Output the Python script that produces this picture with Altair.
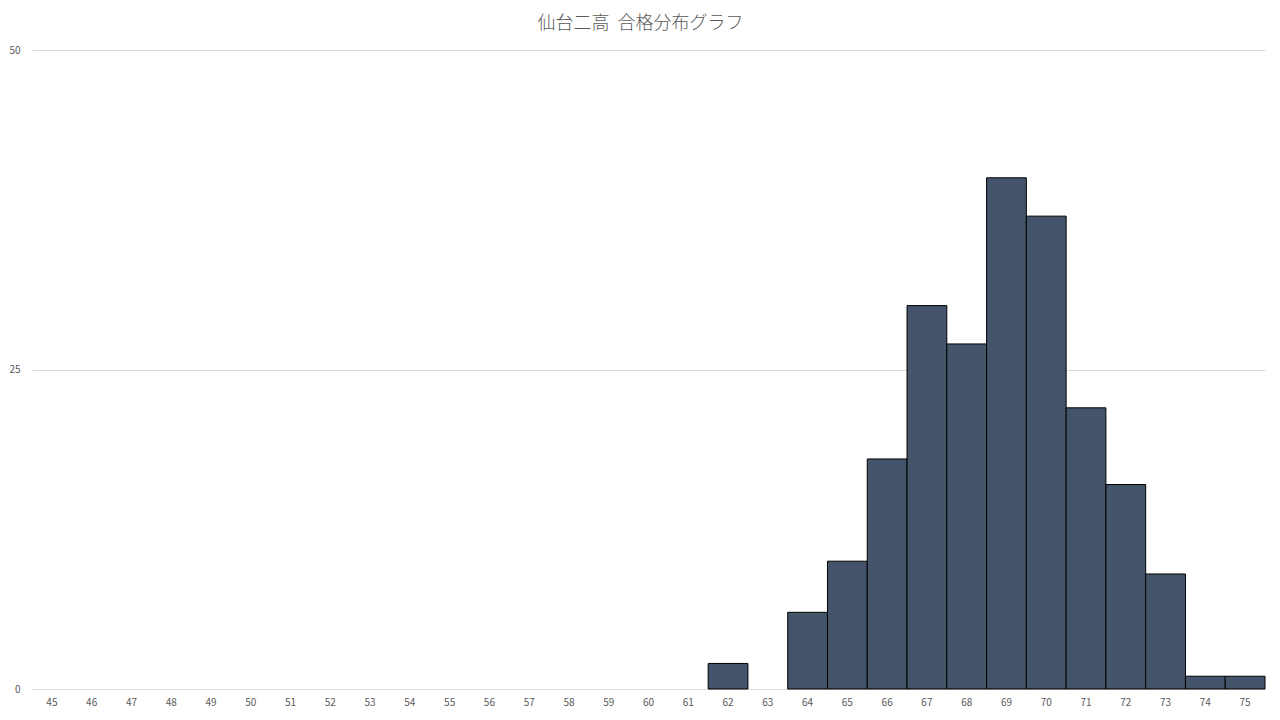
import altair as alt
import pandas as pd

scores = ["45", "46", "47", "48", "49", "50", "51", "52", "53", "54", "55",
          "56", "57", "58", "59", "60", "61", "62", "63", "64", "65", "66",
          "67", "68", "69", "70", "71", "72", "73", "74", "75"]
counts = [0, 0, 0, 0, 0, 0, 0, 0, 0, 0, 0,
          0, 0, 0, 0, 0, 0, 2, 0, 6, 10, 18,
          30, 27, 40, 37, 22, 16, 9, 1, 1]
y_ticks = [0, 25, 50]
title_text = "仙台二高\u00a0\u00a0合格分布グラフ"

df = pd.DataFrame({"score": scores, "count": counts})

font = "Noto Sans CJK JP"

chart = alt.Chart(df).transform_filter(
    "datum.count > 0"
).mark_bar(
    fill="#44546A", stroke="#000000", strokeWidth=1
).encode(
    x=alt.X("score:N",
            scale=alt.Scale(domain=scores, paddingInner=0, paddingOuter=0),
            axis=alt.Axis(title=None, labelAngle=0, ticks=False, domain=True,
                          domainColor="#d9d9d9", labelColor="#595959",
                          labelFontSize=10, labelPadding=8, labelFont=font)),
    y=alt.Y("count:Q",
            scale=alt.Scale(domain=[0, 50]),
            axis=alt.Axis(values=y_ticks, title=None, domain=False, ticks=False,
                          gridColor="#d9d9d9", labelColor="#595959",
                          labelFontSize=10, labelPadding=12, labelFont=font)),
).properties(
    width=1233, height=639,
    title=alt.Title(title_text, fontSize=18, color="#595959", font=font,
                    fontWeight=300, offset=12, dx=-8),
    padding={"left": 24, "top": 42, "right": 7, "bottom": 22},
    autosize="none",
).configure_view(stroke=None)

chart.save("out.html", embed_options={"renderer": "svg", "actions": False})
